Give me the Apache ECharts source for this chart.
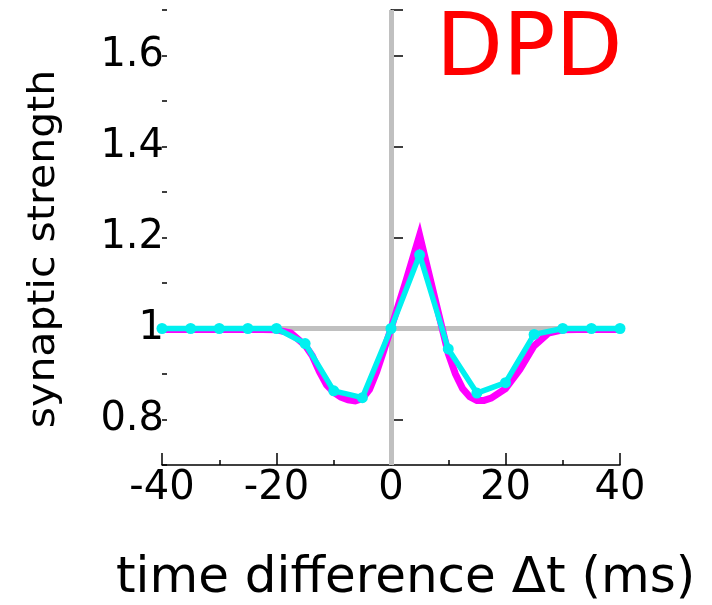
<!DOCTYPE html>
<html><head><meta charset="utf-8">
<script src="https://cdn.jsdelivr.net/npm/echarts@6/dist/echarts.min.js"></script>
<style>html,body{margin:0;padding:0;background:#fff}#c{width:712px;height:605px}</style>
</head><body><div id="c"></div>
<script>
// ---- data ----
const cyanT = [-40,-35,-30,-25,-20,-15,-10,-5,0,5,10,15,20,25,30,35,40];
const cyanV = [1.0,1.0,1.0,1.0,1.0,0.967,0.863,0.848,1.0,1.162,0.955,0.858,0.881,0.987,1.0,1.0,1.0];

const magentaT = [-40,-30,-22.5,-20,-17.5,-15,-13.75,-12.5,-11.25,-10,-8.75,-7.5,-6.25,-5,-3.75,-2.5,-1.25,0,2.5,5,7.5,10,11.25,12.5,13.75,15,16.25,17.5,20,22.5,25,27.5,30,32.5,40];
const magentaV = [0.998,0.998,0.998,0.997,0.99,0.963,0.94,0.905,0.876,0.86,0.849,0.843,0.841,0.846,0.866,0.905,0.952,1.0,1.1,1.205,1.075,0.945,0.9,0.868,0.85,0.842,0.842,0.847,0.868,0.91,0.962,0.99,0.997,0.998,0.998];

const xTickVals = [-40,-20,0,20,40];
const xTickLabels = ['-40','-20','0','20','40'];
const yTickVals = [0.8,1.0,1.2,1.4,1.6];
const yTickLabels = ['0.8','1','1.2','1.4','1.6'];
const yMajorTickVals = [0.8,1.0,1.2,1.4,1.6,1.7];

const refX = 0;   // vertical reference line at Δt = 0
const refY = 1;   // horizontal reference line at strength = 1

const titleText = 'DPD';
const xTitle = 'time difference \u0394t (ms)';
const yTitle = 'synaptic strength';

// ---- chart ----
const FONT = '"DejaVu Sans", sans-serif';
const chart = echarts.init(document.getElementById('c'), null, {renderer: 'canvas'});
const zip = (a, b) => a.map((v, i) => [v, b[i]]);
const axisLineStyle = {color: '#000', width: 1.5};

const option = {
  animation: false,
  backgroundColor: '#fff',
  grid: {left: 162, right: 92, top: 10, bottom: 140},
  xAxis: {
    type: 'value', min: -40, max: 40, interval: 20,
    axisLine: {lineStyle: axisLineStyle},
    axisTick: {inside: true, length: 12, lineStyle: axisLineStyle},
    minorTick: {show: true, splitNumber: 2, length: 5, lineStyle: axisLineStyle},
    splitLine: {show: false}, minorSplitLine: {show: false},
    axisLabel: {
      fontSize: 40, color: '#000', fontFamily: FONT, margin: 4,
      formatter: v => { const i = xTickVals.indexOf(v); return i >= 0 ? xTickLabels[i] : ''; }
    }
  },
  yAxis: [{
    type: 'value', min: 0.7, max: 1.7,
    axisLine: {lineStyle: axisLineStyle},
    axisTick: {inside: true, length: 12, lineStyle: axisLineStyle, customValues: yMajorTickVals},
    splitLine: {show: false},
    axisLabel: {
      fontSize: 40, color: '#000', fontFamily: FONT, margin: -2,
      customValues: yTickVals,
      formatter: v => { const i = yTickVals.findIndex(t => Math.abs(t - v) < 1e-6); return i >= 0 ? yTickLabels[i] : ''; }
    }
  }, {
    type: 'value', min: 0.7, max: 1.7, interval: 0.1, position: 'left',
    axisLine: {show: false},
    axisTick: {inside: true, length: 5, lineStyle: axisLineStyle},
    axisLabel: {show: false},
    splitLine: {show: false}
  }],
  graphic: [
    {type: 'text', x: 436, y: 9, z: 10,
      style: {text: titleText, fill: '#ff0000', font: '87px ' + FONT, align: 'left', verticalAlign: 'top'}},
    {type: 'text', x: 116, y: 554, z: 10,
      style: {text: xTitle, fill: '#000', font: '50px ' + FONT, align: 'left', verticalAlign: 'top'}},
    {type: 'text', x: 44, y: 249, rotation: Math.PI / 2, scaleY: 0.9, z: 10,
      style: {text: yTitle, fill: '#000', font: '41px ' + FONT, align: 'center', verticalAlign: 'middle'}}
  ],
  series: [
    {
      type: 'line', name: 'ref', data: [], z: 1, silent: true,
      markLine: {
        z: 1, silent: true, symbol: 'none', animation: false,
        label: {show: false},
        lineStyle: {color: '#c0c0c0', width: 5, type: 'solid'},
        data: [{xAxis: refX}, {yAxis: refY}]
      }
    },
    {
      type: 'line', name: 'model', z: 10, data: zip(magentaT, magentaV),
      showSymbol: false, symbol: 'none',
      lineStyle: {color: '#ff00ff', width: 7, join: 'miter', miterLimit: 10}
    },
    {
      type: 'line', name: 'sim', z: 11, data: zip(cyanT, cyanV),
      symbol: 'circle', symbolSize: 11,
      itemStyle: {color: '#00f0f0'},
      lineStyle: {color: '#00f0f0', width: 5.5, join: 'round'}
    }
  ]
};
chart.setOption(option);
</script>
</body></html>
